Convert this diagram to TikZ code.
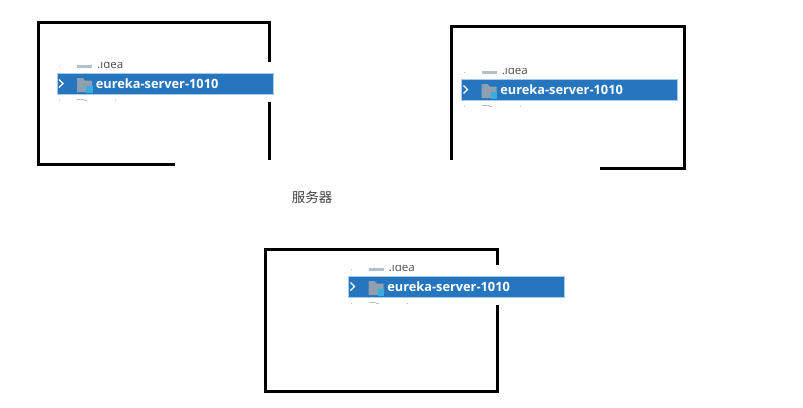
\documentclass[tikz,border=0pt]{standalone}
\usepackage{fontspec}
\setsansfont{Open Sans}
\newfontfamily\cjk{Noto Sans CJK SC}
\definecolor{barblue}{HTML}{2675BF}
\definecolor{baredge}{HTML}{A9CBE8}
\definecolor{foldergray}{HTML}{8E9FB0}
\definecolor{fadegray}{HTML}{B4BFCA}
\definecolor{badgeblue}{HTML}{35AEE2}
\tikzset{
    frameline/.style={line width=2.1pt, black, line cap=butt},
    % one row of the file tree, origin at the top left of the bar
    pics/treerow/.style={code={
        \fill[white] (0,-11) rectangle (216,29);
        \begin{scope}
            \clip (0,-10.5) rectangle (216,-5);
            \node[anchor=base west, inner sep=0pt, font=\sffamily\fontsize{8.2}{10}\selectfont, text=black!70] (-upper) at (40,-5) {.idea};
        \end{scope}
        \fill[fadegray] (20,-8) rectangle (35,-5);
        \fill[fadegray] (2,-7.5) rectangle (3,-6.5);
        \fill[fadegray] (20,25.5) rectangle (27,27);
        \fill[fadegray] (27,26.5) rectangle (30,27.5);
        \fill[fadegray] (2,26.5) rectangle (3,27.5);
        \fill[fadegray] (58,26.5) rectangle (59,28);
        \draw[baredge, line width=0.4pt, fill=barblue] (0,0) rectangle (216,21);
        \draw[white, line width=0.9pt] (2,6.5) -- (6,10.5) -- (2,14.5);
        \fill[foldergray] (20,5) -- (26,5) -- (28,7.5) -- (35,7.5) -- (35,19) -- (20,19) -- cycle;
        \fill[badgeblue] (29,13) rectangle (35.5,19.5);
        \node[anchor=base west, inner sep=0pt, text=white, font=\sffamily\bfseries\fontsize{9.1}{11}\selectfont] (-label) at (38.5,15) {eureka-server-1010};
    }}
}
\begin{document}
\begin{tikzpicture}[x=0.025cm, y=-0.025cm]
    \useasboundingbox (0,0) rectangle (803,408);
    % left frame
    \draw[frameline] (269.5,65) -- (269.5,22.5) -- (38.5,22.5) -- (38.5,164.5) -- (175,164.5);
    \draw[frameline] (269.5,100) -- (269.5,160);
    \pic (left) at (57,73) {treerow};
    % right frame
    \draw[frameline] (451.5,160) -- (451.5,26.5) -- (684.5,26.5) -- (684.5,168.5) -- (600,168.5);
    \pic (right) at (461.5,79) {treerow};
    % caption
    \node[font=\cjk\fontsize{9.6}{11}\selectfont, text=black!75, inner sep=0pt] (server) at (312,197) {服务器};
    % lower frame
    \draw[frameline] (497.5,268) -- (497.5,249.5) -- (265.5,249.5) -- (265.5,391.5) -- (497.5,391.5) -- (497.5,303);
    \pic (lower) at (348.5,276) {treerow};
\end{tikzpicture}
\end{document}
